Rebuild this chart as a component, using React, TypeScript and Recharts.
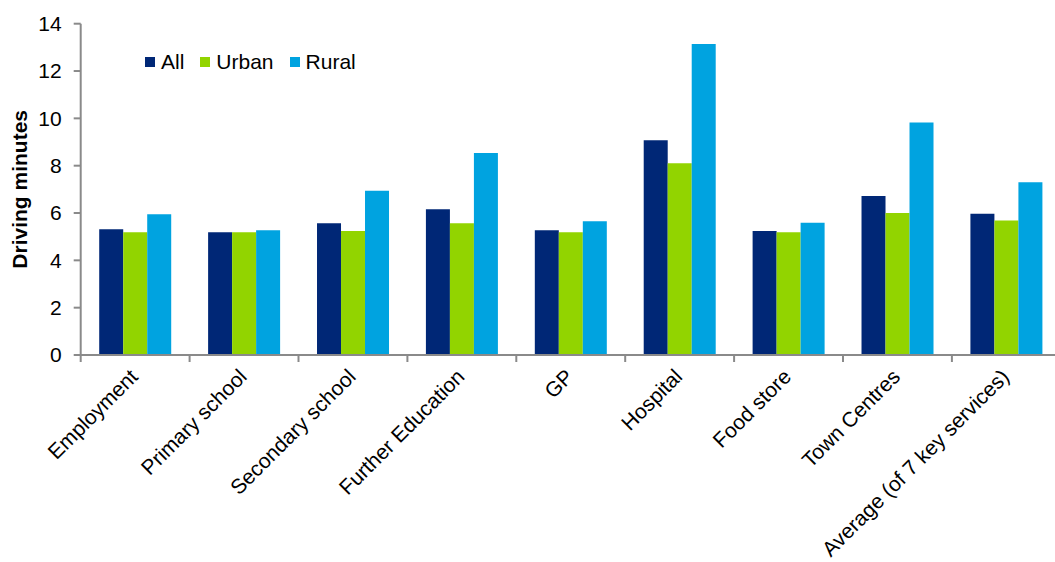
import React from 'react';
import { BarChart, Bar, XAxis, YAxis, Legend } from 'recharts';

const categories = [
  'Employment',
  'Primary school',
  'Secondary school',
  'Further Education',
  'GP',
  'Hospital',
  'Food store',
  'Town Centres',
  'Average (of 7 key services)',
];
const seriesNames = ['All', 'Urban', 'Rural'];
const allValues = [5.31, 5.19, 5.57, 6.16, 5.27, 9.07, 5.24, 6.72, 5.97];
const urbanValues = [5.19, 5.19, 5.24, 5.57, 5.19, 8.1, 5.19, 6.0, 5.68];
const ruralValues = [5.95, 5.27, 6.94, 8.54, 5.65, 13.14, 5.59, 9.83, 7.3];
const yTicks = [0, 2, 4, 6, 8, 10, 12, 14];

const data = categories.map((name, i) => ({
  name,
  All: allValues[i],
  Urban: urbanValues[i],
  Rural: ruralValues[i],
}));

const FONT = 'Liberation Sans, Arial, sans-serif';
const AXIS = '#8a8a8a';
const FS = 21;

const XTick = (props: any) => {
  const { x, y, payload, index, visibleTicksCount } = props;
  const off = payload.offset ?? 0;
  return (
    <g>
      <line x1={x - off} x2={x - off} y1={y} y2={y + 7} stroke={AXIS} strokeWidth={2} />
      {index === visibleTicksCount - 1 && (
        <line x1={x + off} x2={x + off} y1={y} y2={y + 7} stroke={AXIS} strokeWidth={2} />
      )}
      <text
        transform={`translate(${x + 4},${y + 23}) rotate(-45)`}
        textAnchor="end"
        fontSize={FS}
        fontFamily={FONT}
        fill="#000"
      >
        {payload.value}
      </text>
    </g>
  );
};

const LegendContent = (props: any) => {
  const payload = [...(props.payload || [])].sort(
    (a: any, b: any) => seriesNames.indexOf(a.value) - seriesNames.indexOf(b.value)
  );
  return (
    <div style={{ display: 'flex', alignItems: 'center', fontFamily: FONT, fontSize: FS, lineHeight: '24px', color: '#000' }}>
      {payload.map((p: any) => (
        <div key={p.value} style={{ display: 'flex', alignItems: 'center', marginRight: 16 }}>
          <span style={{ display: 'inline-block', width: 10, height: 10, background: p.color, marginRight: 6 }} />
          <span>{p.value}</span>
        </div>
      ))}
    </div>
  );
};

const YLabel = (props: any) => {
  const { viewBox } = props;
  const cy = viewBox.y + viewBox.height / 2;
  return (
    <text
      x={27}
      y={cy}
      transform={`rotate(-90, 27, ${cy})`}
      textAnchor="middle"
      fontSize={FS}
      fontWeight="bold"
      fontFamily={FONT}
      fill="#000"
    >
      Driving minutes
    </text>
  );
};

export default function App() {
  return (
    <div style={{ position: 'absolute', left: 0, top: 0, width: 1055, height: 562, overflow: 'hidden', background: '#fff' }}>
      <BarChart
        width={1080}
        height={562}
        data={data}
        margin={{ top: 23.7, right: 19.2, bottom: 57, left: 0 }}
        barCategoryGap="17%"
        barGap={0}
      >
        <XAxis
          dataKey="name"
          interval={0}
          height={150}
          tickSize={0}
          tickMargin={0}
          tickLine={false}
          axisLine={{ stroke: AXIS, strokeWidth: 2 }}
          tick={<XTick />}
        />
        <YAxis
          width={80.7}
          domain={[0, 14]}
          ticks={yTicks}
          interval={0}
          tickSize={7}
          tickMargin={12}
          axisLine={{ stroke: AXIS, strokeWidth: 2 }}
          tickLine={{ stroke: AXIS, strokeWidth: 2 }}
          tick={{ fill: '#000', fontSize: FS, fontFamily: FONT }}
          label={<YLabel />}
        />
        <Legend
          layout="horizontal"
          verticalAlign="middle"
          align="center"
          itemSorter={null as any}
          content={<LegendContent />}
          wrapperStyle={{ top: 50, left: 145, width: 'auto', height: 24 }}
        />
        <Bar dataKey="All" fill="#002776" isAnimationActive={false} />
        <Bar dataKey="Urban" fill="#92D400" isAnimationActive={false} />
        <Bar dataKey="Rural" fill="#00A3E0" isAnimationActive={false} />
      </BarChart>
    </div>
  );
}
